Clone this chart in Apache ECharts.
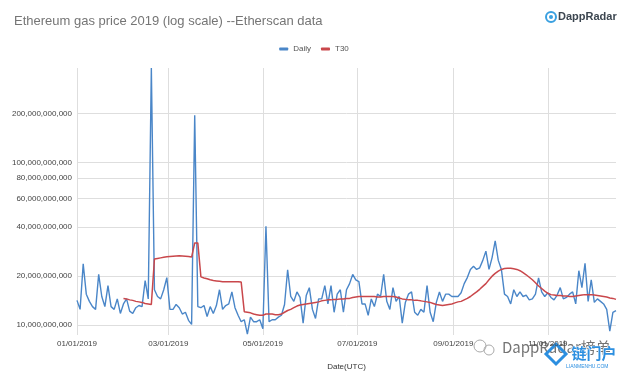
<!DOCTYPE html>
<html>
<head>
<meta charset="utf-8">
<script src="https://cdn.jsdelivr.net/npm/echarts@6/dist/echarts.min.js"></script>
<style>
  html, body { margin: 0; padding: 0; background: #fff; }
  #main { width: 628px; height: 376px; }
</style>
</head>
<body>
<div id="main"></div>
<script>
// one point every 2 days starting 2019-01-01, values in billions
const startDate = [2019, 0, 1];
const dayStep = 2;
const lastDay = 348;

const dailyBn = [
  14.2, 12.5, 23.8, 15.5, 14.0, 13.0, 12.5, 20.5, 15.0, 13.0,
  17.5, 13.0, 12.5, 14.5, 11.8, 13.5, 14.5, 12.2, 11.8, 12.8,
  13.2, 13.0, 18.8, 14.5, 380, 16.5, 15.0, 14.5, 16.5, 19.6,
  12.5, 12.5, 13.4, 12.8, 11.7, 12.0, 10.7, 10.1, 195, 13.0,
  12.8, 13.2, 11.3, 13.0, 11.8, 13.2, 16.5, 12.5, 13.2, 13.5,
  16.0, 12.8, 11.5, 10.5, 10.8, 8.8, 11.2, 10.5, 10.5, 10.8,
  9.5, 40.5, 10.5, 10.8, 10.8, 11.2, 11.5, 13.4, 21.9, 15.0,
  14.0, 16.0, 14.8, 10.3, 15.2, 17.0, 12.5, 11.0, 14.5, 14.5,
  17.5, 13.5, 17.5, 12.0, 15.5, 16.5, 12.0, 16.5, 18.0, 20.5,
  19.0, 18.5, 13.5, 13.5, 11.5, 14.5, 13.0, 15.5, 15.0, 20.5,
  14.0, 12.5, 17.0, 14.0, 15.0, 10.3, 13.8, 15.5, 16.0, 12.0,
  11.5, 12.5, 12.0, 17.5, 12.0, 10.5, 13.8, 16.0, 14.0, 15.5,
  15.5, 15.0, 15.0, 15.0, 15.8, 18.0, 19.6, 22.0, 23.0, 22.0,
  22.5, 25.0, 28.5, 22.0, 26.0, 33.0, 25.0, 22.0, 15.5, 15.0,
  13.5, 16.5, 15.0, 16.0, 15.0, 15.3, 14.3, 14.5, 15.5, 19.5,
  16.0, 15.0, 15.8, 14.8, 14.3, 15.3, 17.0, 14.5, 14.8, 15.5,
  16.0, 13.5, 21.6, 17.0, 24.0, 14.0, 19.0, 13.8, 14.5, 14.0,
  13.5, 12.5, 9.2, 12.0, 12.3
];

const t30Bn = [
  null, null, null, null, null, null, null, null, null, null,
  null, null, null, null, null, 14.6, 14.5, 14.3, 14.2, 14.0,
  13.9, 13.8, 13.6, 13.5, 13.4, 25.5, 25.7, 25.9, 26.1, 26.3,
  26.4, 26.5, 26.6, 26.7, 26.6, 26.5, 26.4, 26.2, 32.0, 32.0,
  19.8, 19.5, 19.3, 19.0, 18.8, 18.7, 18.6, 18.5, 18.5, 18.5,
  18.5, 18.5, 18.5, 18.4, 12.1, 12.0, 11.9, 11.7, 11.6, 11.5,
  11.5, 11.7, 11.7, 11.7, 11.6, 11.6, 11.7, 12.0, 12.3, 12.5,
  12.8, 13.1, 13.3, 13.4, 13.5, 13.6, 13.7, 13.8, 13.9, 14.1,
  14.2, 14.3, 14.3, 14.4, 14.4, 14.5, 14.5, 14.6, 14.6, 14.8,
  14.9, 15.0, 15.0, 15.0, 15.0, 15.0, 15.0, 14.9, 14.9, 15.0,
  15.0, 15.0, 15.0, 14.9, 14.7, 14.5, 14.4, 14.3, 14.3, 14.2,
  14.2, 14.1, 14.0, 13.9, 13.8, 13.6, 13.4, 13.3, 13.2, 13.3,
  13.4, 13.5, 13.7, 13.9, 14.0, 14.3, 14.6, 15.0, 15.5, 16.0,
  16.6, 17.3, 18.0, 19.0, 20.0, 20.8, 21.5, 22.0, 22.3, 22.4,
  22.4, 22.2, 22.0, 21.6, 21.0, 20.4, 19.7, 19.0, 18.2, 17.4,
  16.8, 16.2, 15.7, 15.4, 15.3, 15.2, 15.2, 15.1, 15.1, 15.0,
  15.0, 15.1, 15.2, 15.3, 15.4, 15.4, 15.4, 15.3, 15.2, 15.1,
  15.0, 14.9, 14.7, 14.6, 14.4
];

// x axis labels, as day offsets from 2019-01-01
const xTickDays = [0, 59, 120, 181, 243, 304];
const yTicks = [10e9, 20e9, 40e9, 60e9, 80e9, 100e9, 200e9];

function pad(n) { return n < 10 ? '0' + n : '' + n; }
function dayLabel(d) {
  const dt = new Date(startDate[0], startDate[1], startDate[2] + Math.round(d));
  return pad(dt.getMonth() + 1) + '/' + pad(dt.getDate()) + '/' + dt.getFullYear();
}

const dailyData = dailyBn.map((v, i) => [i * dayStep, v * 1e9]);
const t30Data = t30Bn.map((v, i) => [i * dayStep, v == null ? null : v * 1e9]);

const font = 'Liberation Sans, Arial, sans-serif';
const chart = echarts.init(document.getElementById('main'));

chart.setOption({
  animation: false,
  backgroundColor: '#fff',
  title: {
    text: 'Ethereum gas price 2019 (log scale) --Etherscan data',
    left: 9, top: 10,
    textStyle: { fontFamily: font, fontSize: 13, fontWeight: 'normal', color: '#757575' }
  },
  legend: {
    top: 40, left: 'center',
    icon: 'roundRect', itemWidth: 9, itemHeight: 3, itemGap: 10,
    textStyle: { fontFamily: font, fontSize: 8, color: '#555' },
    data: ['Daily', 'T30']
  },
  grid: { left: 77, right: 12, top: 68, bottom: 39 },
  xAxis: {
    type: 'value',
    min: 0,
    max: lastDay,
    name: 'Date(UTC)',
    nameLocation: 'middle',
    nameGap: 28,
    nameTextStyle: { fontFamily: font, fontSize: 8, color: '#333' },
    axisLine: { show: false },
    axisTick: { show: false, customValues: xTickDays },
    splitLine: { show: true, lineStyle: { color: '#dedede', width: 1 } },
    axisLabel: {
      customValues: xTickDays,
      fontFamily: font, fontSize: 8, color: '#444', margin: 5,
      formatter: dayLabel
    }
  },
  yAxis: {
    type: 'log',
    logBase: 10,
    min: 8.7e9,
    max: 3.8e11,
    axisLine: { show: false },
    axisTick: { show: false, customValues: yTicks },
    splitLine: { show: true, lineStyle: { color: '#dedede', width: 1 } },
    axisLabel: {
      customValues: yTicks,
      fontFamily: font, fontSize: 8, color: '#444', margin: 5,
      formatter: function (v) {
        return String(Math.round(v)).replace(/\B(?=(\d{3})+(?!\d))/g, ',');
      }
    }
  },
  series: [
    {
      name: 'Daily', type: 'line', data: dailyData,
      showSymbol: false, color: '#4a86c8',
      lineStyle: { width: 1.4, color: '#4a86c8' }
    },
    {
      name: 'T30', type: 'line', data: t30Data,
      showSymbol: false, color: '#c9474b',
      lineStyle: { width: 1.5, color: '#c9474b' }
    }
  ],
  graphic: [
    { type: 'circle', shape: { cx: 551, cy: 17, r: 5 }, style: { fill: 'none', stroke: '#3aa0e0', lineWidth: 2 } },
    { type: 'circle', shape: { cx: 551, cy: 17, r: 2 }, style: { fill: '#3aa0e0' } },
    { type: 'text', left: 558, top: 11, style: { text: 'DappRadar', fontFamily: font, fontSize: 11, fontWeight: 'bold', fill: '#3c4650' } },
    { type: 'circle', shape: { cx: 480, cy: 346, r: 6 }, style: { fill: 'none', stroke: '#aaa', lineWidth: 1 } },
    { type: 'circle', shape: { cx: 489, cy: 350, r: 5 }, style: { fill: 'none', stroke: '#aaa', lineWidth: 1 } },
    { type: 'text', left: 501, top: 339, style: { text: 'DappRadar榜单', fontFamily: 'Noto Sans CJK SC, ' + font, fontSize: 15, fill: 'rgba(90,90,90,0.85)', stroke: '#fff', lineWidth: 2 } },
    { type: 'polygon', shape: { points: [[556, 344], [566, 354], [556, 364], [546, 354]] }, style: { fill: 'none', stroke: '#2c8fe0', lineWidth: 3 } },
    { type: 'text', left: 571, top: 345, style: { text: '链门户', fontFamily: 'Noto Sans CJK SC', fontSize: 15, fontWeight: 'bold', fill: '#2c8fe0', stroke: '#fff', lineWidth: 1 } },
    { type: 'text', left: 566, top: 364, style: { text: 'LIANMENHU.COM', fontFamily: font, fontSize: 5, fill: '#2c8fe0' } }
  ]
});
</script>
</body>
</html>
